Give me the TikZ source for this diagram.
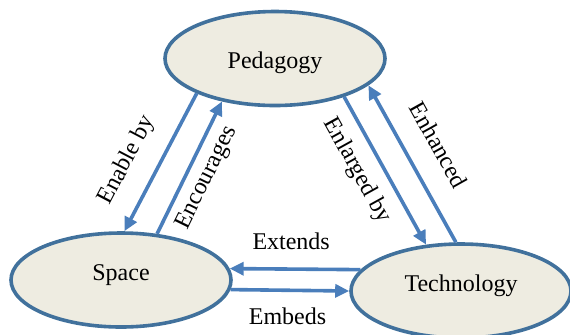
\documentclass[tikz,border=0pt]{standalone}
\usepackage{fontspec}
\setmainfont{Liberation Serif}
\usetikzlibrary{shapes, arrows.meta, positioning}
\definecolor{topicfill}{HTML}{EEECE1}
\definecolor{topicline}{HTML}{41719C}
\definecolor{linkblue}{HTML}{4A7EBB}

\begin{document}
\begin{tikzpicture}[x=0.5pt, y=-0.5pt,
                every node/.style={font=\fontsize{12}{14}\selectfont},
                topic/.style={draw=topicline, fill=topicfill, ellipse, line width=1.8pt, inner sep=0pt,
                    minimum width=110pt, minimum height=47pt, text height=1.2ex, text depth=1.2ex},
                link/.style={draw=linkblue, line width=1.8pt, -{Triangle[length=7pt, width=6.5pt]}}]
                \useasboundingbox (0,0) rectangle (570,334);

                \node [topic, text height=9.5pt, text depth=0pt] (ped) at (275,58.5) {Pedagogy};
                \node [topic] (space) at (121,280) {Space};
                \node [topic] (tech) at (461,291) {Technology};

                \draw [link] (ped.204) to node [sloped, pos=.59, above=5.6pt] (enable) {Enable by} (space.86);
                \draw [link] (space.52) to node [sloped, pos=.49, below=0.6pt] (encourage) {Encourages} (ped.219);
                \draw [link] (ped.331) to node [sloped, pos=.42, below=2.6pt] (enlarge) {Enlarged by} (tech.127);
                \draw [link] (tech.96) to node [sloped, pos=.52, above=7.9pt] (enhance) {Enhanced} (ped.344);
                \draw [link] (tech.168) to node [pos=.53, above=5.4pt] (extend) {Extends} (space.6);
                \draw [link] (space.355) to node [pos=.48, below=4.6pt] (embed) {Embeds} (tech.180);
            \end{tikzpicture}
\end{document}
